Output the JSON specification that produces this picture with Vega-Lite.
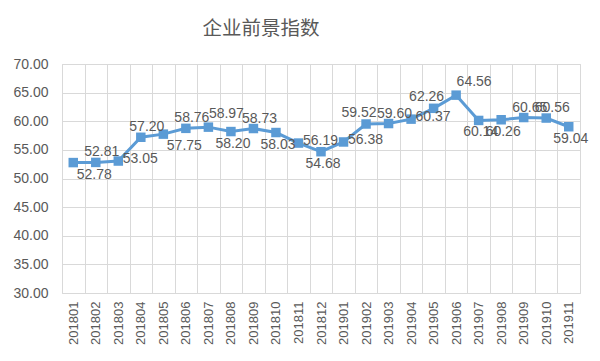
{
  "$schema": "https://vega.github.io/schema/vega-lite/v6.json",
  "width": 518,
  "height": 229,
  "autosize": {"type": "none"},
  "padding": {"left": 62, "top": 64, "right": 20, "bottom": 68},
  "background": "white",
  "title": {"text": "企业前景指数", "font": "Noto Sans CJK SC", "fontSize": 19.5, "fontWeight": "normal", "color": "#595959", "anchor": "middle", "dx": -60, "offset": 18},
  "config": {"view": {"stroke": "#D9D9D9", "strokeWidth": 1}},
  "data": {"values": [
    {"month": "201801", "value": 52.78},
    {"month": "201802", "value": 52.81},
    {"month": "201803", "value": 53.05},
    {"month": "201804", "value": 57.20},
    {"month": "201805", "value": 57.75},
    {"month": "201806", "value": 58.76},
    {"month": "201807", "value": 58.97},
    {"month": "201808", "value": 58.20},
    {"month": "201809", "value": 58.73},
    {"month": "201810", "value": 58.03},
    {"month": "201811", "value": 56.19},
    {"month": "201812", "value": 54.68},
    {"month": "201901", "value": 56.38},
    {"month": "201902", "value": 59.52},
    {"month": "201903", "value": 59.60},
    {"month": "201904", "value": 60.37},
    {"month": "201905", "value": 62.26},
    {"month": "201906", "value": 64.56},
    {"month": "201907", "value": 60.14},
    {"month": "201908", "value": 60.26},
    {"month": "201909", "value": 60.65},
    {"month": "201910", "value": 60.56},
    {"month": "201911", "value": 59.04}
  ]},
  "encoding": {
    "x": {"field": "month", "type": "ordinal", "scale": {"type": "band", "paddingInner": 0, "paddingOuter": 0},
      "axis": {"title": null, "labelAngle": 270, "tickBand": "extent", "grid": true, "gridColor": "#D9D9D9", "ticks": false, "tickSize": 0, "domain": false, "labelFontSize": 13, "labelColor": "#595959", "labelFont": "Liberation Sans", "labelPadding": 8}},
    "y": {"field": "value", "type": "quantitative", "scale": {"domain": [30, 70], "nice": false, "zero": false},
      "axis": {"title": null, "values": [30, 35, 40, 45, 50, 55, 60, 65, 70], "format": ".2f", "grid": true, "gridColor": "#D9D9D9", "ticks": false, "tickSize": 0, "domain": false, "labelFontSize": 14, "labelColor": "#595959", "labelFont": "Liberation Sans", "labelPadding": 14}}
  },
  "layer": [
    {"mark": {"type": "line", "color": "#5B9BD5", "strokeWidth": 3}},
    {"mark": {"type": "point", "shape": "square", "filled": true, "size": 90, "color": "#5B9BD5", "opacity": 1}},
    {"transform": [{"filter": {"field": "month", "oneOf": ["201802", "201804", "201806", "201809", "201903", "201909", "201910"]}}],
      "mark": {"type": "text", "font": "Liberation Sans", "fontSize": 14, "color": "#595959", "dx": 6, "dy": -10, "align": "center", "baseline": "middle"},
      "encoding": {"text": {"field": "value", "type": "quantitative", "format": ".2f"}}},
    {"transform": [{"filter": {"field": "month", "oneOf": ["201807", "201906"]}}],
      "mark": {"type": "text", "font": "Liberation Sans", "fontSize": 14, "color": "#595959", "dx": 18, "dy": -13, "align": "center", "baseline": "middle"},
      "encoding": {"text": {"field": "value", "type": "quantitative", "format": ".2f"}}},
    {"transform": [{"filter": {"field": "month", "oneOf": ["201902", "201905"]}}],
      "mark": {"type": "text", "font": "Liberation Sans", "fontSize": 14, "color": "#595959", "dx": -7, "dy": -11, "align": "center", "baseline": "middle"},
      "encoding": {"text": {"field": "value", "type": "quantitative", "format": ".2f"}}},
    {"transform": [{"filter": {"field": "month", "oneOf": ["201808", "201810", "201812", "201907", "201908", "201911"]}}],
      "mark": {"type": "text", "font": "Liberation Sans", "fontSize": 14, "color": "#595959", "dx": 2, "dy": 12, "align": "center", "baseline": "middle"},
      "encoding": {"text": {"field": "value", "type": "quantitative", "format": ".2f"}}},
    {"transform": [{"filter": {"field": "month", "oneOf": ["201801", "201805"]}}],
      "mark": {"type": "text", "font": "Liberation Sans", "fontSize": 14, "color": "#595959", "dx": 21, "dy": 12, "align": "center", "baseline": "middle"},
      "encoding": {"text": {"field": "value", "type": "quantitative", "format": ".2f"}}},
    {"transform": [{"filter": {"field": "month", "oneOf": ["201803", "201811", "201901", "201904"]}}],
      "mark": {"type": "text", "font": "Liberation Sans", "fontSize": 14, "color": "#595959", "dx": 22, "dy": -2, "align": "center", "baseline": "middle"},
      "encoding": {"text": {"field": "value", "type": "quantitative", "format": ".2f"}}}
  ]
}
